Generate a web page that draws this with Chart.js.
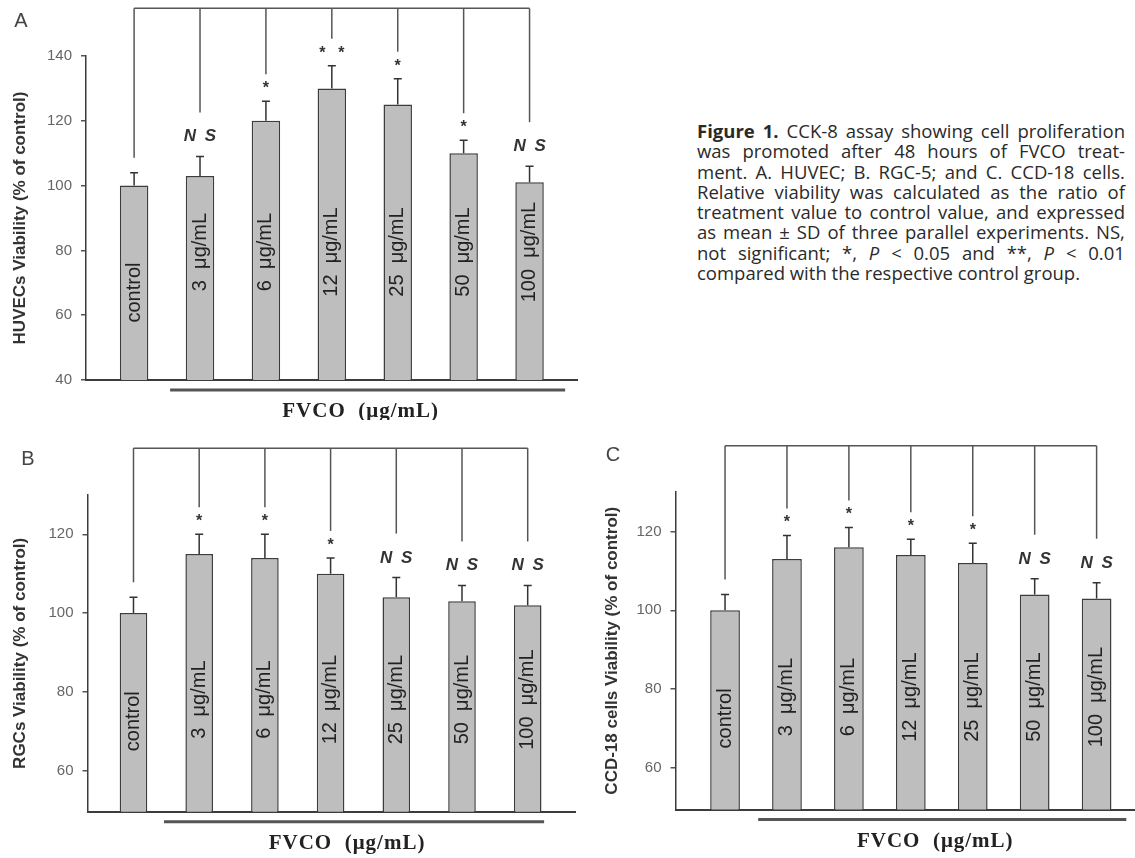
<!DOCTYPE html>
<html>
<head>
<meta charset="utf-8">
<title>Figure 1. CCK-8 assay</title>
<script src="https://cdn.jsdelivr.net/npm/chart.js@4.4.1/dist/chart.umd.min.js"></script>
<style>
  body { margin: 0; background: #fff; }
  #page { position: relative; width: 1135px; height: 858px; overflow: hidden; }
  #page canvas { position: absolute; }
  #caption {
    position: absolute; left: 697px; top: 121px; width: 428px;
    font-family: 'Open Sans', sans-serif; font-size: 18.5px; line-height: 20.3px; color: #2a2a2a;
  }
  #caption .ln { display: flex; justify-content: space-between; white-space: nowrap; }
  #caption .ln.last { justify-content: flex-start; gap: 0.26em; }
</style>
</head>
<body>
<div id="page">
  <canvas id="chartA" width="600" height="420" style="left:0;top:0;width:600px;height:420px"></canvas>
  <canvas id="chartB" width="600" height="438" style="left:0;top:420px;width:600px;height:438px"></canvas>
  <canvas id="chartC" width="555" height="438" style="left:580px;top:420px;width:555px;height:438px"></canvas>
  <div id="caption"></div>
</div>
<script>
// labels written up inside each bar
const doseLabels = ['control', '3  μg/mL', '6  μg/mL', '12  μg/mL', '25  μg/mL', '50  μg/mL', '100  μg/mL'];

// A. HUVEC
const huvecMean = [100, 103, 120, 130, 125, 110, 101];
const huvecSD = [4, 6, 6, 7, 8, 4, 5];
const huvecSig = ['', 'NS', '*', '**', '*', '*', 'NS'];

// B. RGC-5
const rgcMean = [100, 115, 114, 110, 104, 103, 102];
const rgcSD = [4, 5, 6, 4, 5, 4, 5];
const rgcSig = ['', '*', '*', '*', 'NS', 'NS', 'NS'];

// C. CCD-18
const ccdMean = [100, 113, 116, 114, 112, 104, 103];
const ccdSD = [4, 6, 5, 4, 5, 4, 4];
const ccdSig = ['', '*', '*', '*', '*', 'NS', 'NS'];

const ticksA = [40, 60, 80, 100, 120, 140];
const ticksBC = [60, 80, 100, 120];

const xTitle = 'FVCO  (μg/mL)';

const captionLines = [
  '<b>Figure</b> <b>1.</b> CCK-8 assay showing cell proliferation',
  'was promoted after 48 hours of FVCO treat-',
  'ment. A. HUVEC; B. RGC-5; and C. CCD-18 cells.',
  'Relative viability was calculated as the ratio of',
  'treatment value to control value, and expressed',
  'as mean ± SD of three parallel experiments. NS,',
  'not significant; *, <i>P</i> &lt; 0.05 and **, <i>P</i> &lt; 0.01',
  'compared with the respective control group.'
];

const SANS = '"Liberation Sans", Arial, sans-serif';
const SERIF = '"Liberation Serif", "Times New Roman", serif';

const panels = [
  {
    id: 'chartA', letter: 'A', title: 'HUVECs Viability (% of control)',
    mean: huvecMean, sd: huvecSD, sig: huvecSig, yTicks: ticksA,
    yMin: 40, yMax: 140, xMin: -0.73, xMax: 6.72,
    bracket: 154.7, labelMid: 79.5, controlMid: 67, underline: [0.546, 6.54],
    padTop: 56, padRight: 23, yWidth: 86, xHeight: 40,
    titleX: 20, letterX: 21, letterY: 21
  },
  {
    id: 'chartB', letter: 'B', title: 'RGCs Viability (% of control)',
    mean: rgcMean, sd: rgcSD, sig: rgcSig, yTicks: ticksBC,
    yMin: 49.5, yMax: 130, xMin: -0.7, xMax: 6.72,
    bracket: 141.9, labelMid: 78, controlMid: 72.5, underline: [0.464, 6.25],
    padTop: 75, padRight: 25, yWidth: 87.5, xHeight: 46.3,
    titleX: 20, letterX: 28, letterY: 39
  },
  {
    id: 'chartC', letter: 'C', title: 'CCD-18 cells Viability (% of control)',
    mean: ccdMean, sd: ccdSD, sig: ccdSig, yTicks: ticksBC,
    yMin: 49.5, yMax: 130, xMin: -0.8, xMax: 6.62,
    bracket: 141.7, labelMid: 78, controlMid: 72.6, underline: [0.535, 6.48],
    padTop: 72, padRight: 0, yWidth: 95.5, xHeight: 48.5,
    titleX: 32, letterX: 33, letterY: 35
  }
];

function rotText(ctx, text, x, y, font, color) {
  ctx.save();
  ctx.translate(x, y);
  ctx.rotate(-Math.PI / 2);
  ctx.font = font;
  ctx.fillStyle = color;
  ctx.textAlign = 'center';
  ctx.textBaseline = 'middle';
  ctx.fillText(text, 0, 0);
  ctx.restore();
}

// brackets, error bars, stars, in-bar labels, titles
function panelMarks(p) {
  return {
    id: 'panelMarks',
    afterDraw(chart) {
      const ctx = chart.ctx;
      const area = chart.chartArea;
      const xs = chart.scales.x;
      const ys = chart.scales.y;
      const xAt = i => xs.getPixelForValue(i);
      const yAt = v => ys.getPixelForValue(v);
      const topY = yAt(p.bracket);

      ctx.save();
      ctx.strokeStyle = '#555';
      ctx.lineWidth = 1.5;
      ctx.beginPath();
      ctx.moveTo(xAt(0), topY);
      ctx.lineTo(xAt(p.mean.length - 1), topY);
      ctx.stroke();

      p.mean.forEach((m, i) => {
        const x = xAt(i);
        const barTop = yAt(m);
        const errTop = yAt(m + p.sd[i]);

        ctx.strokeStyle = '#333';
        ctx.lineWidth = 1.5;
        ctx.beginPath();
        ctx.moveTo(x, barTop);
        ctx.lineTo(x, errTop);
        ctx.moveTo(x - 4, errTop);
        ctx.lineTo(x + 4, errTop);
        ctx.stroke();

        const sig = p.sig[i];
        let dropEnd = errTop - 15;
        ctx.fillStyle = '#333';
        ctx.textAlign = 'center';
        ctx.textBaseline = 'alphabetic';
        if (sig === 'NS') {
          const ly = errTop - 21;
          ctx.font = 'italic bold 17px ' + SANS;
          ctx.letterSpacing = '2px';
          ctx.fillText('N S', x + 1, ly + 6);
          ctx.letterSpacing = '0px';
          dropEnd = ly - 23;
        } else if (sig) {
          const ly = errTop - 17;
          ctx.font = 'bold 16px ' + SANS;
          for (let k = 0; k < sig.length; k++) {
            ctx.fillText('*', x + (k - (sig.length - 1) / 2) * 19, ly + 9);
          }
          dropEnd = ly - 10;
        }
        ctx.strokeStyle = '#555';
        ctx.beginPath();
        ctx.moveTo(x, topY);
        ctx.lineTo(x, dropEnd);
        ctx.stroke();

        const mid = i === 0 ? p.controlMid : p.labelMid;
        rotText(ctx, doseLabels[i], x, yAt(mid), '20px ' + SANS, '#222');
      });

      // y axis title
      rotText(ctx, p.title, p.titleX, (area.top + area.bottom) / 2, 'bold 17px ' + SANS, '#333');

      // panel letter
      ctx.font = '20px ' + SANS;
      ctx.fillStyle = '#444';
      ctx.textAlign = 'center';
      ctx.textBaseline = 'middle';
      ctx.fillText(p.letter, p.letterX, p.letterY);

      // line under the FVCO group and its label
      const u0 = xAt(p.underline[0]);
      const u1 = xAt(p.underline[1]);
      ctx.strokeStyle = '#555';
      ctx.lineWidth = 3;
      ctx.beginPath();
      ctx.moveTo(u0, area.bottom + 10);
      ctx.lineTo(u1, area.bottom + 10);
      ctx.stroke();

      ctx.font = 'bold 21px ' + SERIF;
      ctx.letterSpacing = '1px';
      ctx.fillStyle = '#222';
      ctx.fillText(xTitle, (u0 + u1) / 2 - 7, area.bottom + 32);
      ctx.letterSpacing = '0px';
      ctx.restore();
    }
  };
}

panels.forEach(p => {
  const ctx = document.getElementById(p.id).getContext('2d');
  new Chart(ctx, {
    type: 'bar',
    data: {
      datasets: [{
        data: p.mean.map((v, i) => ({ x: i, y: v })),
        backgroundColor: '#bebebe',
        borderColor: '#3c3c3c',
        borderWidth: 1.5,
        barPercentage: 0.6,
        categoryPercentage: 1
      }]
    },
    options: {
      responsive: false,
      animation: false,
      events: [],
      layout: { padding: { left: 0, top: p.padTop, right: p.padRight, bottom: 0 } },
      plugins: { legend: { display: false }, tooltip: { enabled: false } },
      scales: {
        x: {
          type: 'linear',
          min: p.xMin,
          max: p.xMax,
          offset: false,
          ticks: { display: false },
          grid: { display: false },
          border: { display: true, color: '#3c3c3c', width: 2 },
          afterFit: s => { s.height = p.xHeight; }
        },
        y: {
          min: p.yMin,
          max: p.yMax,
          afterBuildTicks: s => { s.ticks = p.yTicks.map(v => ({ value: v })); },
          ticks: { color: '#666', padding: 9, font: { family: SANS, size: 15 } },
          grid: { drawOnChartArea: false, drawTicks: true, tickLength: 5, color: '#555', lineWidth: 1.5 },
          border: { display: true, color: '#3c3c3c', width: 1.5 },
          afterFit: s => { s.width = p.yWidth; }
        }
      }
    },
    plugins: [panelMarks(p)]
  });
});

// caption, each line spread to the full width
const cap = document.getElementById('caption');
captionLines.forEach((line, n) => {
  const div = document.createElement('div');
  div.className = n === captionLines.length - 1 ? 'ln last' : 'ln';
  line.split(' ').forEach(word => {
    const span = document.createElement('span');
    span.innerHTML = word;
    div.appendChild(span);
  });
  cap.appendChild(div);
});
</script>
</body>
</html>
